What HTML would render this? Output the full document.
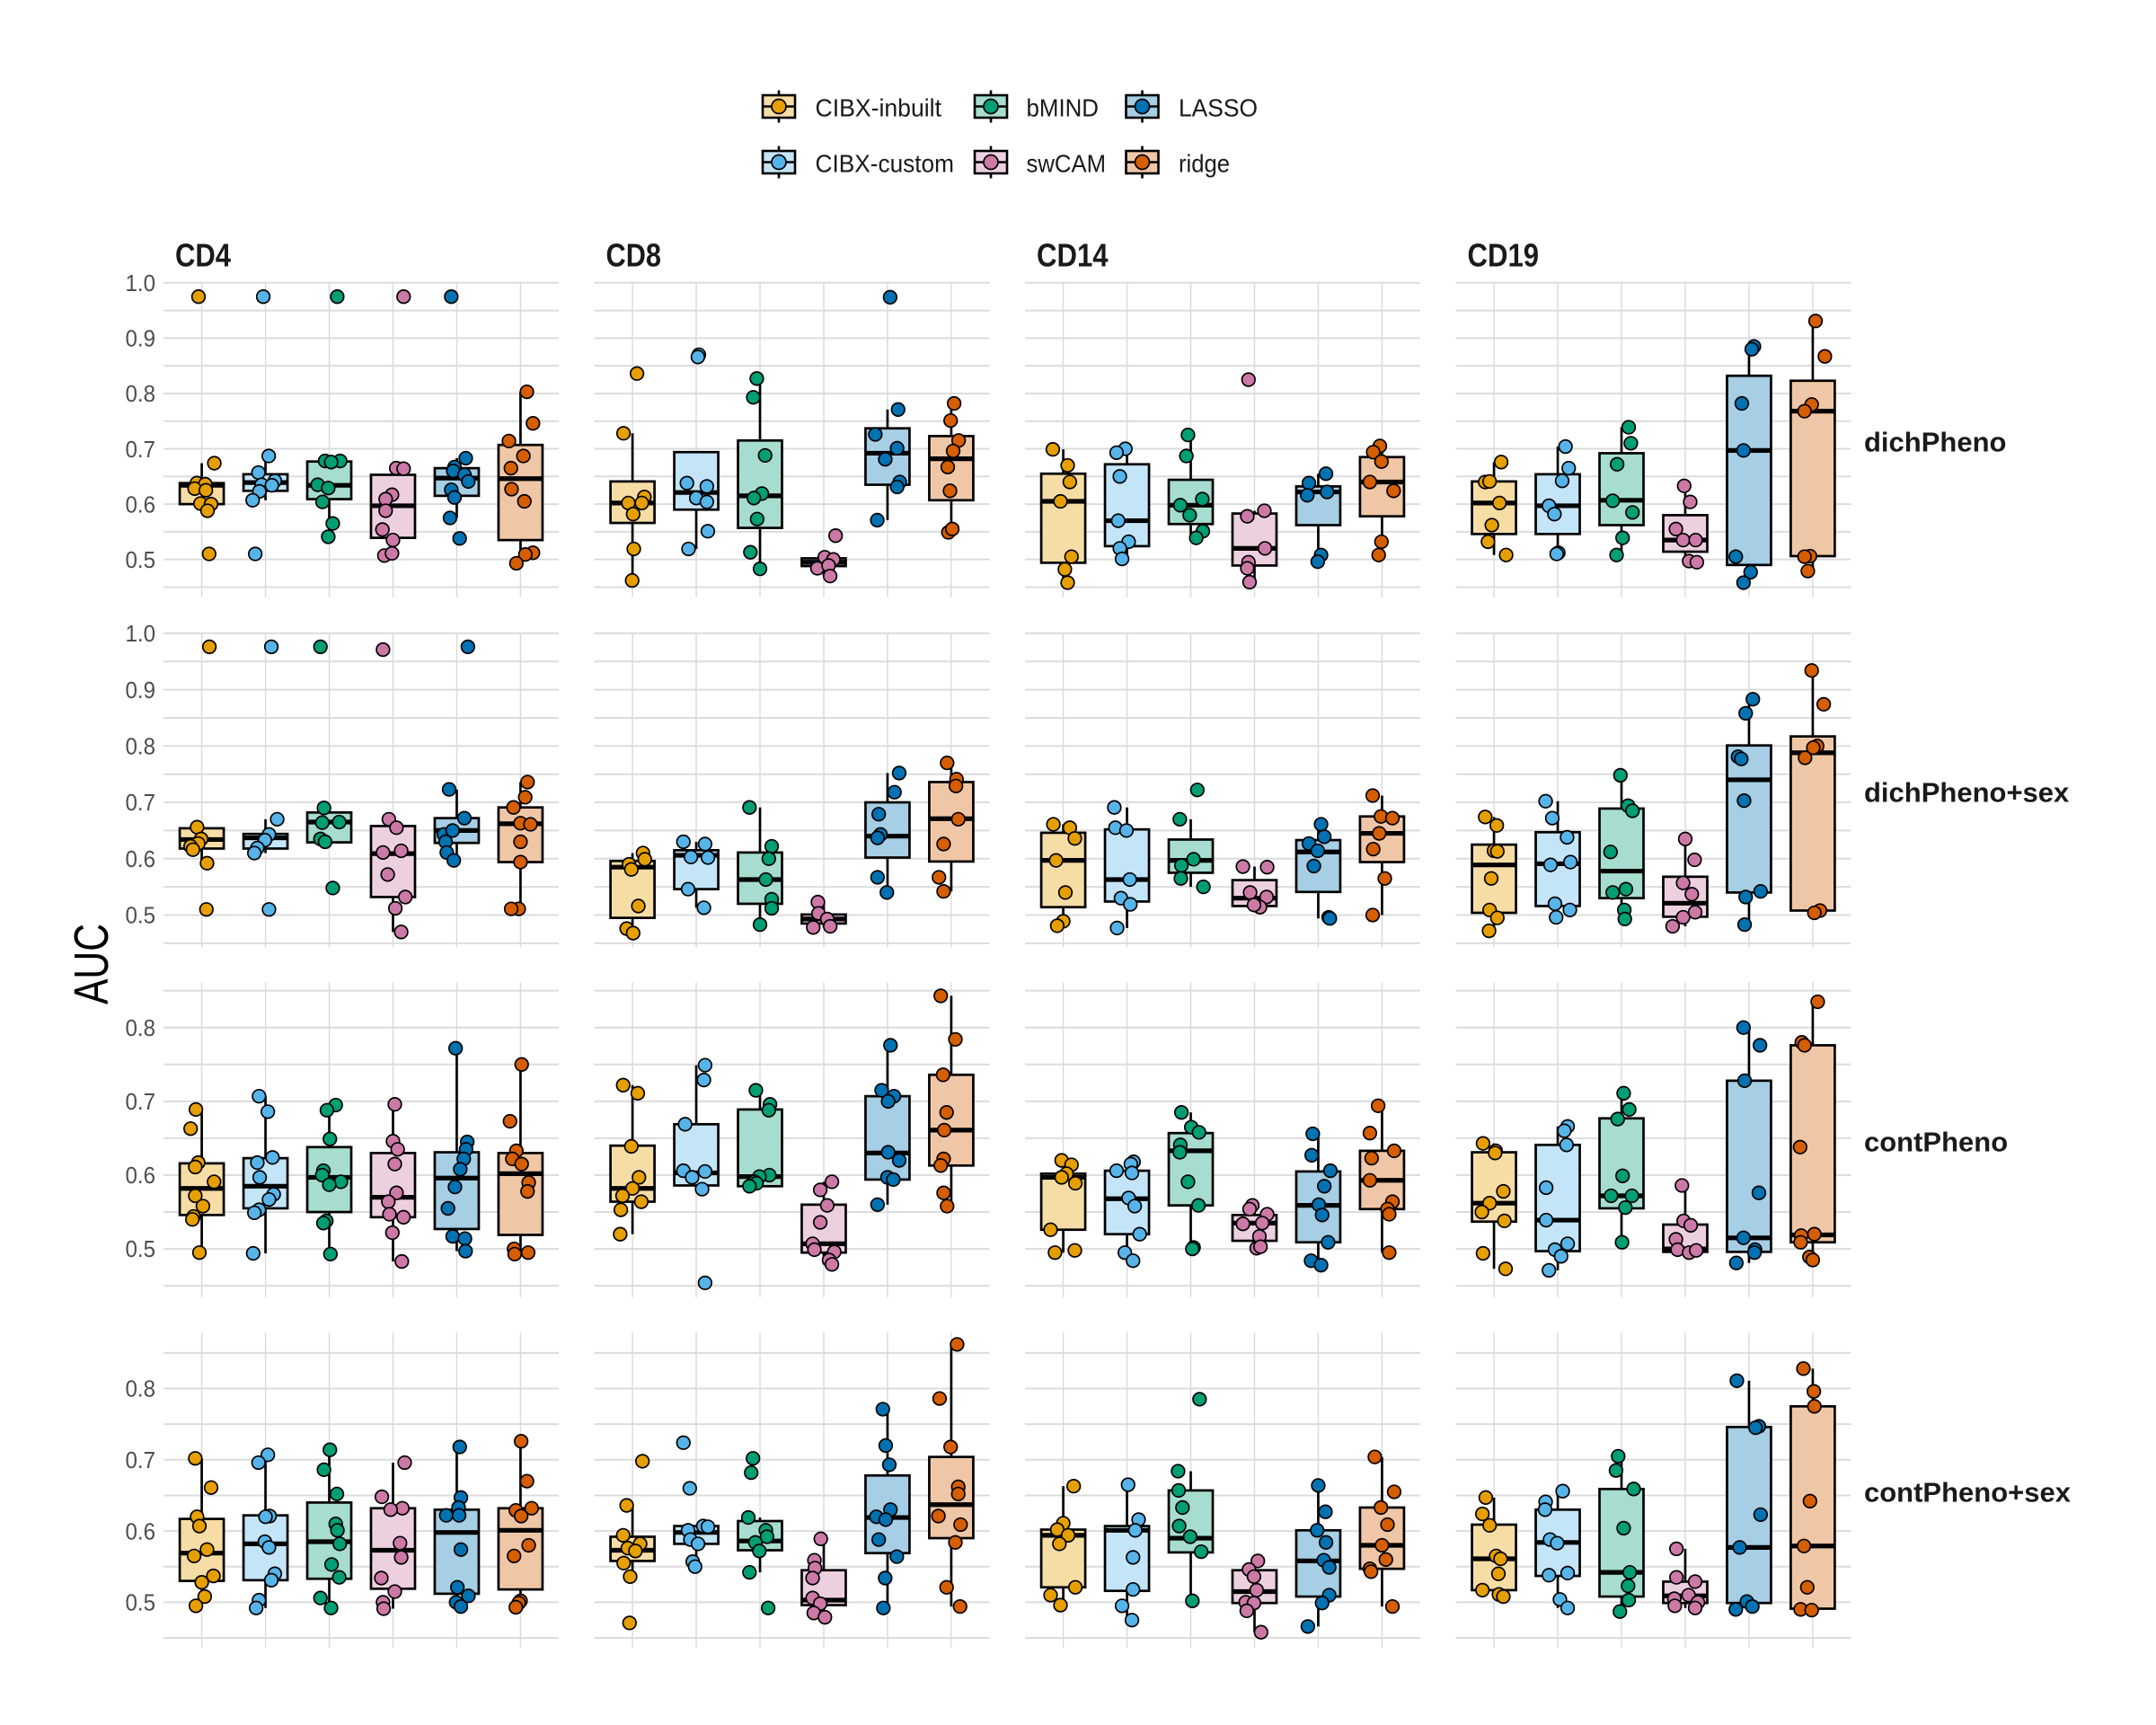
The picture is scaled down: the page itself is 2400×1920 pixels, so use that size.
<!DOCTYPE html>
<html><head><meta charset="utf-8"><style>
html,body{margin:0;padding:0;background:#fff;}
svg{display:block;}
text{font-family:"Liberation Sans",Arial,sans-serif;}
</style></head><body>
<svg id="s" width="2400" height="1920" viewBox="0 0 2400 1920" xmlns="http://www.w3.org/2000/svg">
<rect width="2400" height="1920" fill="#fff"/>
<g id="grid"></g>
<g id="boxes"></g>
<g id="pts"></g>
<!-- legend -->
<g id="legend"></g>
<g fill="#1A1A1A" font-size="28">
<text x="907.5" y="129.5" textLength="140.5" lengthAdjust="spacingAndGlyphs">CIBX-inbuilt</text>
<text x="1142.5" y="129.5" textLength="80.5" lengthAdjust="spacingAndGlyphs">bMIND</text>
<text x="1312" y="129.5" textLength="88" lengthAdjust="spacingAndGlyphs">LASSO</text>
<text x="907.5" y="191.5" textLength="154.5" lengthAdjust="spacingAndGlyphs">CIBX-custom</text>
<text x="1142.5" y="191.5" textLength="88.5" lengthAdjust="spacingAndGlyphs">swCAM</text>
<text x="1312" y="191.5" textLength="57" lengthAdjust="spacingAndGlyphs">ridge</text>
</g>
<!-- strip titles -->
<g fill="#1A1A1A" font-size="36" font-weight="bold">
<text x="195" y="296.5" textLength="62" lengthAdjust="spacingAndGlyphs">CD4</text>
<text x="674.5" y="296.5" textLength="61.5" lengthAdjust="spacingAndGlyphs">CD8</text>
<text x="1154" y="296.5" textLength="79.6" lengthAdjust="spacingAndGlyphs">CD14</text>
<text x="1633.5" y="296.5" textLength="79.6" lengthAdjust="spacingAndGlyphs">CD19</text>
</g>
<!-- row labels -->
<g fill="#1A1A1A" font-size="31" font-weight="bold">
<text x="2075" y="502.5">dichPheno</text>
<text x="2075" y="892.3">dichPheno+sex</text>
<text x="2075" y="1281.7">contPheno</text>
<text x="2075" y="1671.4">contPheno+sex</text>
</g>
<!-- y axis title -->
<text transform="translate(120,1073) rotate(-90)" text-anchor="middle" font-size="54" fill="#000" textLength="90" lengthAdjust="spacingAndGlyphs">AUC</text>
<!-- tick labels -->
<g fill="#4D4D4D" font-size="25.5" text-anchor="end">
<text x="173" y="324.0" textLength="33.5" lengthAdjust="spacingAndGlyphs">1.0</text>
<text x="173" y="385.6" textLength="33.5" lengthAdjust="spacingAndGlyphs">0.9</text>
<text x="173" y="447.2" textLength="33.5" lengthAdjust="spacingAndGlyphs">0.8</text>
<text x="173" y="508.8" textLength="33.5" lengthAdjust="spacingAndGlyphs">0.7</text>
<text x="173" y="570.3" textLength="33.5" lengthAdjust="spacingAndGlyphs">0.6</text>
<text x="173" y="631.9" textLength="33.5" lengthAdjust="spacingAndGlyphs">0.5</text>
<text x="173" y="714.1" textLength="33.5" lengthAdjust="spacingAndGlyphs">1.0</text>
<text x="173" y="776.8" textLength="33.5" lengthAdjust="spacingAndGlyphs">0.9</text>
<text x="173" y="839.5" textLength="33.5" lengthAdjust="spacingAndGlyphs">0.8</text>
<text x="173" y="902.2" textLength="33.5" lengthAdjust="spacingAndGlyphs">0.7</text>
<text x="173" y="965.0" textLength="33.5" lengthAdjust="spacingAndGlyphs">0.6</text>
<text x="173" y="1027.7" textLength="33.5" lengthAdjust="spacingAndGlyphs">0.5</text>
<text x="173" y="1152.9" textLength="33.5" lengthAdjust="spacingAndGlyphs">0.8</text>
<text x="173" y="1235.0" textLength="33.5" lengthAdjust="spacingAndGlyphs">0.7</text>
<text x="173" y="1317.1" textLength="33.5" lengthAdjust="spacingAndGlyphs">0.6</text>
<text x="173" y="1399.2" textLength="33.5" lengthAdjust="spacingAndGlyphs">0.5</text>
<text x="173" y="1554.7" textLength="33.5" lengthAdjust="spacingAndGlyphs">0.8</text>
<text x="173" y="1634.0" textLength="33.5" lengthAdjust="spacingAndGlyphs">0.7</text>
<text x="173" y="1713.3" textLength="33.5" lengthAdjust="spacingAndGlyphs">0.6</text>
<text x="173" y="1792.6" textLength="33.5" lengthAdjust="spacingAndGlyphs">0.5</text>
</g>
</svg>
<script>
(function(){
var L=[182,661.5,1141,1620.5], W=440, S=W/6.2;
var T=[314.3,704,1093.4,1483.1], H=350.5;
var VR=[[1.0008,.4316],[1.0014,.4426],[.8613,.4345],[.8787,.4367]];
var COL=['#E69F00','#56B4E9','#009E73','#CC79A7','#0072B2','#D55E00'];
var FILL=['#F6DDA6','#C4E5F7','#A6DDCE','#EDD0E0','#A6CEE4','#F0C7A6'];
function Y(r,v){return T[r]+(VR[r][0]-v)/(VR[r][0]-VR[r][1])*H;}
function CX(c,k){return L[c]+(0.6+k)*S;}
var D=[
[ // row 1
[[.600,.634,.638,".975:-3.6 .674:14 .638:-5.4 .636:3.9 .628:-7.9 .625:4.6 .601:-1.4 .600:10.4 .588:6.4 .510:8.2"],
 [.624,.639,.654,".975:-2.5 .687:3.6 .657:-7.9 .642:10.4 .635:-4.3 .634:7.1 .623:-6.8 .607:-14.3 .510:-11.4"],
 [.609,.634,.677,".975:8.9 .678:-4.6 .678:12.1 .676:2.1 .635:-12.9 .629:-1.1 .604:-7.5 .565:3.9 .541:-1.1"],
 [.539,.597,.653,".975:11.8 .665:3.6 .664:11.8 .617:-1.1 .609:-8.2 .588:-8.2 .554:-11.8 .535:0 .507:-9.6 .511:-1.1"],
 [.615,.647,.665,".975:-6.1 .683:10 .667:-2.5 .660:-3.9 .653:8.6 .641:12.9 .626:-6.1 .612:-2.5 .575:-7.5 .538:3.2"],
 [.535,.646,.707,".803:7.1 .746:13.9 .714:-12.9 .687:3.2 .665:-10.7 .627:-10 .605:4.3 .512:13.9 .509:5.4 .493:-4.6"]],
[[.566,.602,.641,".836:5 .728:-10 .613:13.2 .602:10.4 .602:-4.6 .582:0.7 .519:1.4 .462:-0.4"],
 [.590,.621,.694,".870:2.9 .866:1.8 .638:-10.4 .632:11.8 .611:0 .604:11.8 .551:12.9 .519:-8.6"],
 [.557,.615,.715,".827:-3.6 .793:-7.5 .688:5.7 .619:2.1 .611:-6.8 .573:-3.2 .513:-10.7 .483:0"],
 [.488,.495,.502,".543:13.2 .504:1.1 .500:10.7 .484:-7.1 .489:5.4 .470:7.1"],
 [.635,.692,.737,".974:2.9 .771:11.8 .726:-13.6 .701:10.7 .681:-2.5 .640:13.6 .631:10.7 .571:-11.4"],
 [.607,.682,.723,".782:3.2 .751:-0.7 .715:8.2 .696:2.1 .667:-3.9 .624:-1.4 .549:-3.2 .555:1.1"]],
[[.494,.605,.655,".699:-11.6 .670:4.9 .640:7.3 .605:-3.1 .505:9.2 .482:1.8 .458:4.9"],
 [.524,.570,.672,".700:-1.8 .693:-11.6 .650:-8 .570:-9.8 .532:1.8 .520:-8 .501:-5.5"],
 [.564,.598,.644,".725:-3.1 .687:-4.9 .609:12.9 .598:-11.6 .580:-1.2 .551:13.5 .539:6.1"],
 [.489,.520,.583,".825:-6.7 .588:11 .578:-8 .520:11.6 .495:-6.7 .484:-8 .459:-5.5"],
 [.562,.622,.632,".655:8.6 .638:-10.4 .622:9.8 .616:-12.2 .508:3.1 .496:-0.6"],
 [.578,.640,.685,".705:-2.4 .694:-9.8 .677:-0.6 .640:-13.5 .624:12.9 .532:-0.6 .508:-3.7"]],
[[.546,.602,.641,".676:8 .640:-9.8 .641:-4.9 .602:6.1 .562:-2.4 .532:-6.7 .508:13.5"],
 [.546,.597,.654,".704:8.6 .665:12.2 .642:4.9 .597:-9.8 .582:-3.7 .512:0.6 .510:-1.2"],
 [.562,.607,.692,".739:8 .710:10.4 .672:-4.9 .606:-9.8 .585:12.2 .539:1.2 .508:-5.5"],
 [.514,.535,.580,".633:-1.2 .604:5.5 .555:-10.4 .535:-2.4 .535:11.6 .497:4.3 .495:12.9"],
 [.490,.697,.832,".885:5.5 .880:3.1 .782:-8 .697:-6.1 .505:-14.7 .477:1.8 .458:-6.1"],
 [.506,.768,.823,".931:3.1 .867:13.5 .780:-1.2 .768:-9.2 .506:-3.1 .505:-9.2 .479:-5.5"]]
],
[ // row 2
[[.618,.634,.654,".976:8.5 .656:-5.2 .635:-0.7 .627:-3.9 .622:-12.4 .616:-9.8 .592:5.9 .510:5.2"],
 [.618,.637,.644,".976:6.5 .670:13 .643:3.9 .633:-0.7 .619:-9.1 .610:-12.4 .510:3.9"],
 [.629,.665,.682,".976:-9.8 .690:-5.9 .664:-7.8 .665:11.1 .635:-9.8 .630:-4.6 .548:3.9"],
 [.532,.609,.658,".971:-11.1 .670:-4.6 .655:3.9 .611:-11.1 .614:9.1 .572:-5.9 .532:13.7 .512:2.6 .470:9.1"],
 [.628,.650,.672,".976:12.4 .723:-8.5 .672:8.5 .643:-14.3 .650:-4.6 .630:-12.4 .611:-11.1 .597:-3.3"],
 [.594,.662,.691,".736:7.8 .709:5.2 .691:-7.8 .663:0 .661:11.1 .630:0 .594:0 .511:-2 .511:-10.4"]],
[[.495,.585,.596,".610:11.7 .599:13.7 .590:-3.9 .581:-1.3 .516:6.5 .476:-6.5 .468:0.7"],
 [.546,.606,.615,".630:-14.3 .626:9.8 .603:-5.9 .602:13 .546:-9.1 .513:8.5"],
 [.520,.563,.611,".691:-11.7 .622:13 .600:9.8 .563:6.5 .528:13 .512:13 .483:0"],
 [.485,.493,.501,".523:-6.5 .503:-5.9 .493:3.9 .478:-11.7 .480:7.2"],
 [.602,.640,.700,".752:13 .718:7.8 .679:-9.8 .643:-7.8 .637:-11.1 .567:-11.1 .540:-0.7"],
 [.595,.671,.736,".770:-4.6 .741:5.9 .729:5.2 .670:7.8 .626:-8.5 .567:-13.7 .542:-8.5"]],
[[.514,.597,.646,".661:-11 .655:7.3 .636:12.9 .597:-8 .540:2.4 .489:0 .481:-6.7"],
 [.524,.563,.652,".691:-14.1 .655:-12.9 .650:-0.6 .563:3.1 .530:-6.7 .519:3.7 .477:-11"],
 [.575,.597,.634,".722:7.3 .670:-12.2 .599:3.1 .588:-10.4 .565:-11 .550:14.1",[.550,.670]],
 [.516,.530,.562,".586:-12.9 .585:14.1 .540:-4.9 .532:13.5 .514:6.1 .518:-0.6"],
 [.541,.612,.633,".661:3.1 .639:6.7 .627:-10.4 .614:-0.6 .587:-4.9 .496:11.6 .494:12.9"],
 [.594,.645,.675,".712:-10.4 .675:-1.2 .672:11.6 .645:-3.1 .617:-9.8 .565:3.1 .500:-10.4"]],
[[.504,.589,.625,".674:-9.8 .659:3.1 .614:0 .613:3.7 .565:-3.1 .509:-4.9 .495:3.7 .472:-5.5"],
 [.516,.591,.647,".702:-13.5 .672:-6.1 .638:10.4 .589:-8 .594:14.1 .520:-3.1 .509:13.5 .496:-1.8"],
 [.530,.578,.689,".748:-1.2 .694:7.3 .685:12.2 .612:-12.2 .540:-9.8 .546:4.9 .509:3.1 .493:3.7"],
 [.497,.521,.568,".635:0 .598:10.4 .557:-2.4 .537:7.3 .505:11 .496:-2.4 .480:-14.1"],
 [.540,.740,.801,".883:4.3 .858:-3.7 .781:-12.2 .777:-8.6 .703:-5.5 .542:12.9 .532:-3.7 .483:-4.9"],
 [.508,.788,.817,".934:-1.2 .874:12.2 .800:4.9 .797:0.6 .779:-8.6 .508:8 .504:1.8"]]
],
[ // row 3
[[.546,.582,.616,".689:-6.5 .663:-12.4 .617:-3.9 .611:-7.2 .591:13.7 .572:-7.2 .558:1.3 .544:-9.1 .540:-10.4 .495:-2.6"],
 [.555,.585,.623,".707:-7.2 .686:2.6 .624:7.8 .617:-9.1 .597:-6.5 .574:9.1 .567:3.9 .553:-7.2 .549:-12.4 .494:-13.7"],
 [.550,.597,.638,".695:7.2 .688:-2.6 .649:0.7 .606:-6.5 .600:-7.8 .591:13 .587:0 .538:-3.3 .535:-6.5 .493:1.3"],
 [.543,.570,.630,".696:2 .646:0 .635:5.2 .615:2 .576:3.9 .564:-5.2 .543:11.7 .547:-3.9 .522:-0.7 .483:9.8"],
 [.527,.596,.631,".772:-1.3 .645:11.7 .635:10.4 .622:7.8 .608:3.9 .584:-2 .555:-9.8 .517:-4.6 .514:9.1 .497:9.8"],
 [.519,.602,.630,".750:1.3 .673:-11.7 .633:-4.6 .622:-9.1 .615:1.3 .590:9.1 .578:7.8 .500:-7.2 .495:8.5 .493:-6.5"]],
[[.564,.582,.640,".722:-10.4 .711:5.9 .639:-1.3 .597:7.2 .582:0 .572:-11.1 .564:9.8 .553:-13 .520:-13.7"],
 [.586,.603,.669,".749:9.8 .729:8.5 .669:-12.4 .606:-14.3 .605:9.8 .597:-4.6 .581:6.5 .454:9.8"],
 [.585,.598,.689,".715:-4.6 .696:11.1 .688:9.8 .600:10.4 .598:-0.7 .591:-5.9 .589:-3.9 .585:-11.7"],
 [.495,.507,.560,".591:9.1 .580:-3.9 .559:3.9 .536:-3.9 .507:-12.4 .499:-10.4 .496:11.7 .485:5.9 .479:9.1"],
 [.594,.630,.707,".776:3.3 .715:-6.5 .707:7.2 .700:0.7 .631:0.7 .620:13 .597:0 .594:6.5 .560:-11.1"],
 [.613,.661,.736,".843:-11.7 .784:4.6 .736:-9.1 .685:-5.2 .661:-7.8 .622:-8.5 .613:-11.7 .576:-8.5 .558:-4.6"]],
[[.526,.597,.602,".620:-1.8 .614:9.2 .602:3.7 .597:-1.8 .589:13.5 .526:-14.1 .495:-9.2 .498:12.9"],
 [.520,.568,.606,".618:7.3 .615:4.3 .606:-11.6 .603:5.5 .569:1.8 .558:8.6 .520:14.1 .495:-2.4 .484:6.7"],
 [.559,.633,.657,".685:-10.4 .665:0.6 .658:9.2 .641:-11.6 .631:-12.2 .591:-3.1 .559:8.6 .502:3.1 .500:1.8"],
 [.511,.535,.546,".559:-2.4 .554:-5.5 .547:14.1 .534:-12.9 .535:8.6 .517:5.5 .501:2.4 .503:6.7"],
 [.509,.559,.605,".656:-6.1 .627:-7.3 .606:13.5 .585:6.7 .560:0.6 .546:4.3 .509:11 .484:-8 .478:3.1"],
 [.554,.593,.633,".694:-4.3 .657:-13.5 .633:13.5 .623:-11.6 .593:-13.5 .564:11.6 .554:6.1 .547:8 .495:8"]],
[[.537,.562,.631,".643:-12.2 .633:1.8 .630:1.2 .578:10.4 .562:-4.9 .550:-13.5 .538:11.6 .494:-12.2 .473:12.9"],
 [.497,.539,.641,".666:11 .660:7.3 .641:9.8 .583:-12.9 .539:-12.9 .507:11 .499:-3.1 .490:3.7 .471:-9.8"],
 [.555,.572,.677,".711:2.4 .689:8.6 .676:-4.3 .599:1.2 .572:-11.6 .572:11.6 .556:4.3 .509:0.6"],
 [.496,.500,.533,".586:-3.7 .538:-1.8 .532:6.1 .513:-10.4 .499:-8.6 .495:4.3 .498:12.2"],
 [.496,.515,.728,".800:-6.1 .776:12.2 .728:-4.9 .576:11 .515:-6.1 .499:6.7 .495:6.1 .481:-14.1"],
 [.509,.519,.776,".835:5.5 .780:-12.2 .776:-9.2 .638:-14.1 .520:1.8 .518:-12.9 .509:-13.5 .489:-3.7 .485:0"]]
],
[ // row 4
[[.530,.569,.617,".702:-7.2 .661:10.4 .620:-5.2 .607:-2.6 .574:5.9 .565:-8.5 .537:13 .528:0 .508:3.3 .495:-6.5"],
 [.531,.582,.622,".707:2.6 .696:-7.8 .621:4.6 .620:0 .585:-0.7 .577:3.9 .540:10.4 .531:6.5 .503:-7.2 .492:-10.4"],
 [.533,.585,.640,".714:0.7 .686:-5.9 .652:8.5 .610:7.2 .601:9.1 .582:11.7 .553:2.6 .535:11.1 .506:-9.8 .492:2"],
 [.519,.573,.632,".696:13 .648:-12.4 .632:10.4 .630:-2.6 .583:7.8 .563:9.1 .534:-13 .515:2 .500:-11.1 .491:-10.4"],
 [.512,.598,.630,".718:3.3 .647:4.6 .633:2 .622:-11.7 .622:2.6 .574:4.6 .521:0.7 .509:13 .500:-0.7 .494:4.6"],
 [.518,.601,.632,".726:0.7 .670:7.2 .632:12.4 .629:-5.2 .621:0.7 .580:9.1 .565:-7.2 .502:0 .499:-2 .493:-5.2"]],
[[.558,.573,.592,".698:11.1 .636:-6.5 .594:-10.4 .582:8.5 .576:-5.2 .572:3.3 .555:-9.8 .536:-2.6 .471:-3.3"],
 [.582,.598,.607,".724:-14.3 .660:-7.2 .607:7.8 .606:13 .601:-9.1 .588:-6.5 .582:2 .557:-3.9 .550:-1.3"],
 [.573,.586,.614,".702:-7.8 .682:-9.8 .619:-13 .601:6.5 .592:7.8 .584:-5.2 .572:-0.7 .542:-11.7 .492:9.1"],
 [.496,.503,.545,".589:-3.3 .559:-10.4 .548:-9.8 .534:-12.4 .506:-12.4 .498:-3.9 .485:-11.1 .479:1.3"],
 [.569,.619,.678,".771:-5.2 .720:-2 .693:2 .630:3.3 .620:-12.4 .616:-2 .588:-9.8 .564:10.4 .534:-2.6 .492:-4.6"],
 [.590,.637,.704,".862:6.5 .786:-13 .718:-0.7 .662:7.8 .652:7.8 .621:-14.3 .609:10.4 .584:4.6 .521:-5.2 .494:9.8"]],
[[.521,.594,.602,".663:11.6 .611:0 .602:-6.7 .594:5.5 .582:-4.3 .521:13.5 .510:-14.1 .496:-3.1"],
 [.516,.601,.607,".665:1.2 .616:12.9 .601:9.2 .563:6.7 .518:6.7 .495:-5.5 .475:5.5"],
 [.570,.590,.657,".785:9.8 .684:-14.1 .657:-13.5 .633:-9.2 .607:-12.9 .592:-0.6 .571:11.6 .502:1.8",[.502,.684]],
 [.499,.515,.545,".558:3.7 .546:-6.1 .536:-0.6 .517:2.4 .500:-9.8 .499:-0.6 .488:-8.6 .458:7.3"],
 [.508,.558,.601,".664:0 .627:8 .601:-1.2 .584:8.6 .559:6.1 .549:12.2 .510:12.2 .499:4.3 .466:-11.6"],
 [.547,.580,.633,".704:-8 .655:13.5 .633:-1.2 .609:6.1 .580:0 .560:4.3 .547:-13.5 .543:-12.2 .494:11.6"]],
[[.517,.561,.609,".647:-9.2 .624:-12.9 .608:-4.9 .565:2.4 .561:7.3 .540:4.9 .517:-12.9 .511:5.5 .508:10.4"],
 [.537,.584,.630,".656:5.5 .641:-13.5 .630:-14.1 .588:-8.6 .583:-0.6 .538:-9.8 .541:11 .504:2.4 .492:11"],
 [.508,.542,.659,".705:-3.7 .685:-6.1 .659:13.5 .604:2.4 .542:9.2 .523:7.3 .503:8 .487:-1.8"],
 [.499,.509,.529,".575:-9.8 .535:-9.8 .529:11 .510:3.7 .505:-12.2 .500:14.1 .495:-11.6 .492:11",[.492,.575]],
 [.499,.577,.746,".811:-13.5 .747:11 .745:7.3 .623:12.9 .577:-10.4 .501:-2.4 .494:3.7 .490:-14.7"],
 [.491,.579,.775,".828:-10.4 .796:1.2 .775:1.8 .642:-3.1 .579:-9.8 .521:-6.1 .490:-13.5 .489:-1.2"]]
]
];
var g='',b='',p='';
var f=function(n){return n.toFixed(2);};
var BW=2.7, MW=5.2;
for(var r=0;r<4;r++){
 for(var c=0;c<4;c++){
  for(var k=9;k<=20;k++){
   var v=k*0.05;
   if(v<=VR[r][0]+1e-6 && v>=VR[r][1]-1e-6){
    var y=Y(r,v);
    g+='<line x1="'+L[c]+'" x2="'+(L[c]+W)+'" y1="'+f(y)+'" y2="'+f(y)+'" stroke="#DCDCDC" stroke-width="2"/>';
   }
  }
  for(var j=0;j<6;j++){
   var x=CX(c,j);
   g+='<line x1="'+f(x)+'" x2="'+f(x)+'" y1="'+T[r]+'" y2="'+(T[r]+H)+'" stroke="#D9D9D9" stroke-width="1.4"/>';
  }
  var grp=D[r][c];
  for(var m=0;m<6;m++){
   var d=grp[m], q1=d[0], md=d[1], q3=d[2];
   var pts=d[3].split(' ').map(function(s){var a=s.split(':');return [parseFloat(a[0]),parseFloat(a[1])];});
   var lo,hi;
   if(d[4]){lo=d[4][0];hi=d[4][1];}
   else{
    var iqr=q3-q1, ul=q3+1.5*iqr+1e-9, ll=q1-1.5*iqr-1e-9;
    hi=q3;lo=q1;
    pts.forEach(function(pt){if(pt[0]<=ul&&pt[0]>hi)hi=pt[0];if(pt[0]>=ll&&pt[0]<lo)lo=pt[0];});
   }
   var cx=CX(c,m), bw=49;
   b+='<line x1="'+f(cx)+'" x2="'+f(cx)+'" y1="'+f(Y(r,hi))+'" y2="'+f(Y(r,q3))+'" stroke="#000" stroke-width="'+BW+'"/>';
   b+='<line x1="'+f(cx)+'" x2="'+f(cx)+'" y1="'+f(Y(r,q1))+'" y2="'+f(Y(r,lo))+'" stroke="#000" stroke-width="'+BW+'"/>';
   b+='<rect x="'+f(cx-bw/2)+'" y="'+f(Y(r,q3))+'" width="'+bw+'" height="'+f(Y(r,q1)-Y(r,q3))+'" fill="'+FILL[m]+'" stroke="#000" stroke-width="'+BW+'"/>';
   b+='<line x1="'+f(cx-bw/2)+'" x2="'+f(cx+bw/2)+'" y1="'+f(Y(r,md))+'" y2="'+f(Y(r,md))+'" stroke="#000" stroke-width="'+MW+'"/>';
   pts.forEach(function(pt){
    p+='<circle cx="'+f(cx+pt[1])+'" cy="'+f(Y(r,pt[0]))+'" r="7.3" fill="'+COL[m]+'" stroke="#000" stroke-width="1.7"/>';
   });
  }
 }
}
var lg='';
var KX=[867,1103,1271.5], KY=[118.5,180.5];
var order=[[0,2,4],[1,3,5]];
for(var rr=0;rr<2;rr++)for(var cc=0;cc<3;cc++){
 var mi=order[rr][cc], kx=KX[cc], ky=KY[rr];
 lg+='<line x1="'+kx+'" x2="'+kx+'" y1="'+(ky-18)+'" y2="'+(ky+18)+'" stroke="#000" stroke-width="2.6"/>';
 lg+='<rect x="'+(kx-18)+'" y="'+(ky-12.5)+'" width="36" height="25" fill="'+FILL[mi]+'" stroke="#000" stroke-width="2.6"/>';
 lg+='<line x1="'+(kx-18)+'" x2="'+(kx+18)+'" y1="'+ky+'" y2="'+ky+'" stroke="#000" stroke-width="2.6"/>';
 lg+='<circle cx="'+kx+'" cy="'+ky+'" r="8" fill="'+COL[mi]+'" stroke="#000" stroke-width="1.7"/>';
}
document.getElementById('grid').innerHTML=g;
document.getElementById('boxes').innerHTML=b;
document.getElementById('pts').innerHTML=p;
document.getElementById('legend').innerHTML=lg;
})();
</script>
</body></html>
